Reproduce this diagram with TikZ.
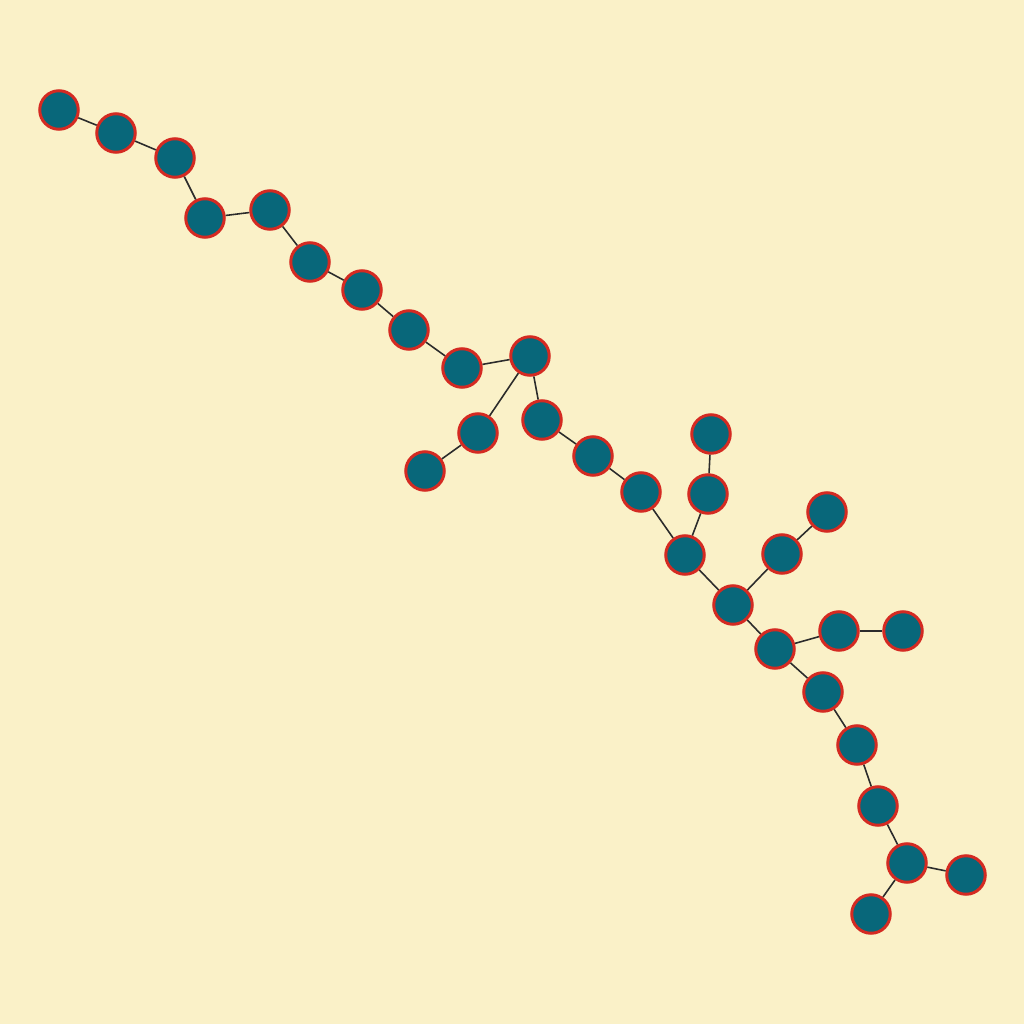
\documentclass[tikz,border=0pt]{standalone}
\definecolor{paper}{HTML}{FAF1C8}
\definecolor{teal}{HTML}{08677A}
\definecolor{rim}{HTML}{D42A22}
\definecolor{wire}{HTML}{2B2B2B}
\tikzset{
  vertex/.style={circle,fill=teal,draw=rim,line width=0.85pt,
    minimum size=0.385cm,inner sep=0pt},
  link/.style={draw=wire,line width=0.45pt}
}
\begin{document}
\begin{tikzpicture}[x=0.01cm,y=-0.01cm]
\fill[paper] (0,0) rectangle (1024,1024);
\useasboundingbox (0,0) rectangle (1024,1024);

% vertices
\foreach \name/\px/\py in {
  a/59/110, b/116/133, c/175/158, d/205/218, e/270/210,
  f/310/262, g/362/290, h/409/330, i/462/368, j/530/356,
  k/478/433, l/425/471, m/542/420, n/593/456, o/641/492,
  p/685/555, q/708/494, r/711/434, s/733/605, t/782/554,
  u/827/512, v/775/649, w/839/631, x/903/631, y/823/692,
  z/857/745, aa/878/806, ab/907/863, ac/966/875, ad/871/914}
  \node[vertex] (\name) at (\px,\py) {};

% edges
\foreach \u/\v in {a/b, b/c, c/d, d/e, e/f, f/g, g/h, h/i, i/j,
  j/k, k/l, j/m, m/n, n/o, o/p, p/q, q/r, p/s, s/t, t/u,
  s/v, v/w, w/x, v/y, y/z, z/aa, aa/ab, ab/ac, ab/ad}
  \draw[link] (\u) -- (\v);
\end{tikzpicture}
\end{document}
